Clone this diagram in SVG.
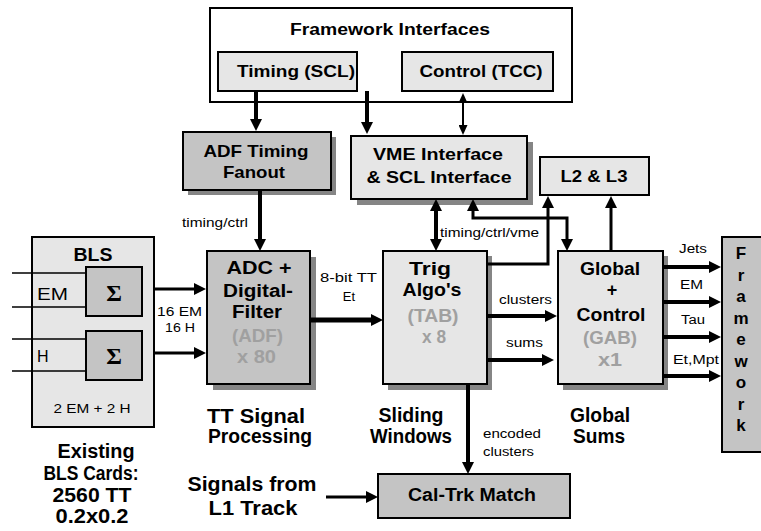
<svg xmlns="http://www.w3.org/2000/svg" width="761" height="531" viewBox="0 0 761 531">
<defs>
<style>
.b{font-family:"Liberation Sans",Arial,sans-serif;font-weight:bold;text-anchor:middle;fill:#000}
.n{font-family:"Liberation Sans",Arial,sans-serif;font-weight:normal;fill:#000}
.g{fill:#a0a0a0}
.lt{fill:#e6e6e6;stroke:#000;stroke-width:2}
.dk{fill:#c4c4c4;stroke:#000;stroke-width:2}
.wh{fill:#fff;stroke:#000;stroke-width:2}
.sh{fill:#858585}
.sg{font-family:"Liberation Serif","Times New Roman",serif;font-weight:bold;font-size:24px;text-anchor:middle}
.c{fill:none;stroke:#000;stroke-width:4}
.c3{fill:none;stroke:#000;stroke-width:3}
.th{fill:none;stroke:#000;stroke-width:1.5}
</style>
<marker id="ah" markerUnits="userSpaceOnUse" markerWidth="12" markerHeight="12" refX="6" refY="6" orient="auto-start-reverse">
<path d="M0,0 L12,6 L0,12 z" fill="#000"/>
</marker>
<marker id="ahs" markerUnits="userSpaceOnUse" markerWidth="10" markerHeight="9" refX="5" refY="4.5" orient="auto-start-reverse">
<path d="M0,0 L10,4.5 L0,9 z" fill="#000"/>
</marker>
</defs>
<rect width="761" height="531" fill="#fff"/>

<g id="framework-interfaces">
<rect class="wh" x="210" y="8" width="362" height="94"/>
<text class="b" x="390" y="35" font-size="16" textLength="200" lengthAdjust="spacingAndGlyphs">Framework Interfaces</text>
</g>
<g id="timing-scl">
<rect class="lt" x="218" y="52" width="139" height="39"/>
<text class="b" x="296" y="77" font-size="17" textLength="118" lengthAdjust="spacingAndGlyphs">Timing (SCL)</text>
</g>
<g id="control-tcc">
<rect class="lt" x="402" y="52" width="151" height="39"/>
<text class="b" x="481" y="77" font-size="17" textLength="123" lengthAdjust="spacingAndGlyphs">Control (TCC)</text>
</g>

<g id="adf-timing-fanout">
<rect class="sh" x="188" y="137" width="148" height="58"/>
<rect class="dk" x="183" y="132" width="148" height="58"/>
<text class="b" x="256" y="157" font-size="17" textLength="105" lengthAdjust="spacingAndGlyphs">ADF Timing</text>
<text class="b" x="254" y="178" font-size="17" textLength="62" lengthAdjust="spacingAndGlyphs">Fanout</text>
</g>

<g id="vme-interface">
<rect class="sh" x="357" y="142" width="176" height="63"/>
<rect class="lt" x="351" y="136" width="176" height="63"/>
<text class="b" x="438" y="160" font-size="17" textLength="130" lengthAdjust="spacingAndGlyphs">VME Interface</text>
<text class="b" x="439" y="183" font-size="17" textLength="145" lengthAdjust="spacingAndGlyphs">&amp; SCL Interface</text>
</g>

<g id="l2-l3">
<rect class="lt" x="540" y="157" width="109" height="38"/>
<text class="b" x="594" y="182" font-size="17" textLength="67" lengthAdjust="spacingAndGlyphs">L2 &amp; L3</text>
</g>

<g id="bls">
<rect class="lt" x="32" y="237" width="122" height="190"/>
<text class="b" x="93" y="261" font-size="18" textLength="39" lengthAdjust="spacingAndGlyphs">BLS</text>
<text class="n" x="37" y="300" font-size="16" textLength="31" lengthAdjust="spacingAndGlyphs">EM</text>
<text class="n" x="37" y="362" font-size="16">H</text>
<rect class="dk" x="86" y="267" width="56" height="49"/>
<rect class="dk" x="86" y="331" width="56" height="49"/>
<text class="sg" x="114" y="301">Σ</text>
<text class="sg" x="114" y="364">Σ</text>
<text class="n" x="92" y="413" font-size="13" text-anchor="middle" textLength="77" lengthAdjust="spacingAndGlyphs">2 EM + 2 H</text>
<path class="th" d="M12,273 H86 M12,307 H86 M12,339 H86 M12,371 H86"/>
</g>

<g id="adf">
<rect class="sh" x="213" y="257" width="103" height="133"/>
<rect class="dk" x="207" y="251" width="103" height="133"/>
<text class="b" x="259" y="274" font-size="18" textLength="65" lengthAdjust="spacingAndGlyphs">ADC +</text>
<text class="b" x="258" y="297" font-size="18" textLength="70" lengthAdjust="spacingAndGlyphs">Digital-</text>
<text class="b" x="257" y="318" font-size="18" textLength="50" lengthAdjust="spacingAndGlyphs">Filter</text>
<text class="b g" x="257.5" y="342" font-size="18" textLength="51" lengthAdjust="spacingAndGlyphs">(ADF)</text>
<text class="b g" x="256.5" y="363" font-size="18" textLength="39" lengthAdjust="spacingAndGlyphs">x 80</text>
</g>

<g id="tab">
<rect class="sh" x="388" y="256" width="104" height="134"/>
<rect class="lt" x="383" y="251" width="104" height="133"/>
<text class="b" x="430" y="275" font-size="18" textLength="42" lengthAdjust="spacingAndGlyphs">Trig</text>
<text class="b" x="432" y="296" font-size="18" textLength="59" lengthAdjust="spacingAndGlyphs">Algo's</text>
<text class="b g" x="433" y="322" font-size="18" textLength="51" lengthAdjust="spacingAndGlyphs">(TAB)</text>
<text class="b g" x="434" y="343" font-size="18" textLength="24" lengthAdjust="spacingAndGlyphs">x 8</text>
</g>

<g id="gab">
<rect class="sh" x="563" y="256" width="105" height="134"/>
<rect class="lt" x="558" y="251" width="105" height="133"/>
<text class="b" x="610" y="275" font-size="18" textLength="60" lengthAdjust="spacingAndGlyphs">Global</text>
<text class="b" x="612" y="296" font-size="18">+</text>
<text class="b" x="611" y="321" font-size="18" textLength="69" lengthAdjust="spacingAndGlyphs">Control</text>
<text class="b g" x="610" y="344" font-size="18" textLength="54" lengthAdjust="spacingAndGlyphs">(GAB)</text>
<text class="b g" x="610" y="366" font-size="18" textLength="24" lengthAdjust="spacingAndGlyphs">x1</text>
</g>

<g id="framework">
<rect class="dk" x="722" y="237" width="40" height="215"/>
<text class="b" x="741" y="259" font-size="17">F</text>
<text class="b" x="741" y="280.5" font-size="17">r</text>
<text class="b" x="741" y="302" font-size="17">a</text>
<text class="b" x="741" y="323.5" font-size="17">m</text>
<text class="b" x="741" y="345" font-size="17">e</text>
<text class="b" x="741" y="366.5" font-size="17">w</text>
<text class="b" x="741" y="388" font-size="17">o</text>
<text class="b" x="741" y="409.5" font-size="17">r</text>
<text class="b" x="741" y="431" font-size="17">k</text>
</g>

<g id="cal-trk-match">
<rect class="dk" x="378" y="474" width="192" height="44"/>
<text class="b" x="472" y="501" font-size="18" textLength="128" lengthAdjust="spacingAndGlyphs">Cal-Trk Match</text>
</g>

<g id="captions">
<text class="b" x="96" y="458" font-size="20" textLength="77" lengthAdjust="spacingAndGlyphs">Existing</text>
<text class="b" x="91" y="480" font-size="20" textLength="95" lengthAdjust="spacingAndGlyphs">BLS Cards:</text>
<text class="b" x="92" y="502" font-size="20" textLength="79" lengthAdjust="spacingAndGlyphs">2560 TT</text>
<text class="b" x="92" y="523" font-size="20" textLength="73" lengthAdjust="spacingAndGlyphs">0.2x0.2</text>
<text class="b" x="256" y="423" font-size="20" textLength="98" lengthAdjust="spacingAndGlyphs">TT Signal</text>
<text class="b" x="260" y="443" font-size="20" textLength="104" lengthAdjust="spacingAndGlyphs">Processing</text>
<text class="b" x="411" y="422" font-size="20" textLength="65" lengthAdjust="spacingAndGlyphs">Sliding</text>
<text class="b" x="411" y="443" font-size="20" textLength="82" lengthAdjust="spacingAndGlyphs">Windows</text>
<text class="b" x="600" y="422" font-size="20" textLength="60" lengthAdjust="spacingAndGlyphs">Global</text>
<text class="b" x="599" y="443" font-size="20" textLength="52" lengthAdjust="spacingAndGlyphs">Sums</text>
<text class="b" x="252" y="491" font-size="20" textLength="129" lengthAdjust="spacingAndGlyphs">Signals from</text>
<text class="b" x="253" y="515" font-size="20" textLength="89" lengthAdjust="spacingAndGlyphs">L1 Track</text>
</g>

<g id="connectors">
<path class="c" d="M256,91 V125" marker-end="url(#ah)"/>
<path class="c" d="M367,91 V128" marker-end="url(#ah)"/>
<path class="c3" style="stroke-width:2" d="M463,98 V130" marker-start="url(#ahs)" marker-end="url(#ahs)"/>
<path class="c" d="M260,190 V245" marker-end="url(#ah)"/>
<path class="c3" d="M154,289 H200" marker-end="url(#ah)"/>
<path class="c3" d="M154,353 H200" marker-end="url(#ah)"/>
<path class="c" style="stroke-width:5" d="M310,320 H377" marker-end="url(#ah)"/>
<path class="c" d="M436,205 V245" marker-start="url(#ah)" marker-end="url(#ah)"/>
<path class="c3" d="M473,205 V218 H567 V245" marker-start="url(#ah)" marker-end="url(#ah)"/>
<path class="c3" d="M487,264 H548 V202" marker-end="url(#ah)"/>
<path class="c3" d="M611,251 V202" marker-end="url(#ah)"/>
<path class="c" d="M487,316 H551" marker-end="url(#ah)"/>
<path class="c" d="M487,360 H548" marker-end="url(#ah)"/>
<path class="c" d="M663,267 H715" marker-end="url(#ah)"/>
<path class="c" d="M663,302 H715" marker-end="url(#ah)"/>
<path class="c" d="M663,337 H715" marker-end="url(#ah)"/>
<path class="c" d="M663,376 H715" marker-end="url(#ah)"/>
<path class="c" d="M468,384 V468" marker-end="url(#ah)"/>
<path class="c3" d="M326,497 H372" marker-end="url(#ah)"/>
<text class="n" x="182" y="227" font-size="12" textLength="66" lengthAdjust="spacingAndGlyphs">timing/ctrl</text>
<text class="n" x="157" y="316" font-size="13" textLength="45" lengthAdjust="spacingAndGlyphs">16 EM</text>
<text class="n" x="165" y="332" font-size="13" textLength="30" lengthAdjust="spacingAndGlyphs">16 H</text>
<text class="n" x="320" y="282" font-size="12" textLength="57" lengthAdjust="spacingAndGlyphs">8-bit TT</text>
<text class="n" x="349" y="301" font-size="13" text-anchor="middle">Et</text>
<text class="n" x="440" y="237" font-size="12" textLength="99" lengthAdjust="spacingAndGlyphs">timing/ctrl/vme</text>
<text class="n" x="499" y="304" font-size="12" textLength="53" lengthAdjust="spacingAndGlyphs">clusters</text>
<text class="n" x="506" y="347" font-size="12" textLength="37" lengthAdjust="spacingAndGlyphs">sums</text>
<text class="n" x="679" y="253" font-size="12" textLength="28" lengthAdjust="spacingAndGlyphs">Jets</text>
<text class="n" x="680" y="289" font-size="12" textLength="23" lengthAdjust="spacingAndGlyphs">EM</text>
<text class="n" x="681" y="324" font-size="12" textLength="24" lengthAdjust="spacingAndGlyphs">Tau</text>
<text class="n" x="673" y="364" font-size="12" textLength="46" lengthAdjust="spacingAndGlyphs">Et,Mpt</text>
<text class="n" x="483" y="438" font-size="12" textLength="58" lengthAdjust="spacingAndGlyphs">encoded</text>
<text class="n" x="483" y="456" font-size="12" textLength="51" lengthAdjust="spacingAndGlyphs">clusters</text>
</g>
</svg>
